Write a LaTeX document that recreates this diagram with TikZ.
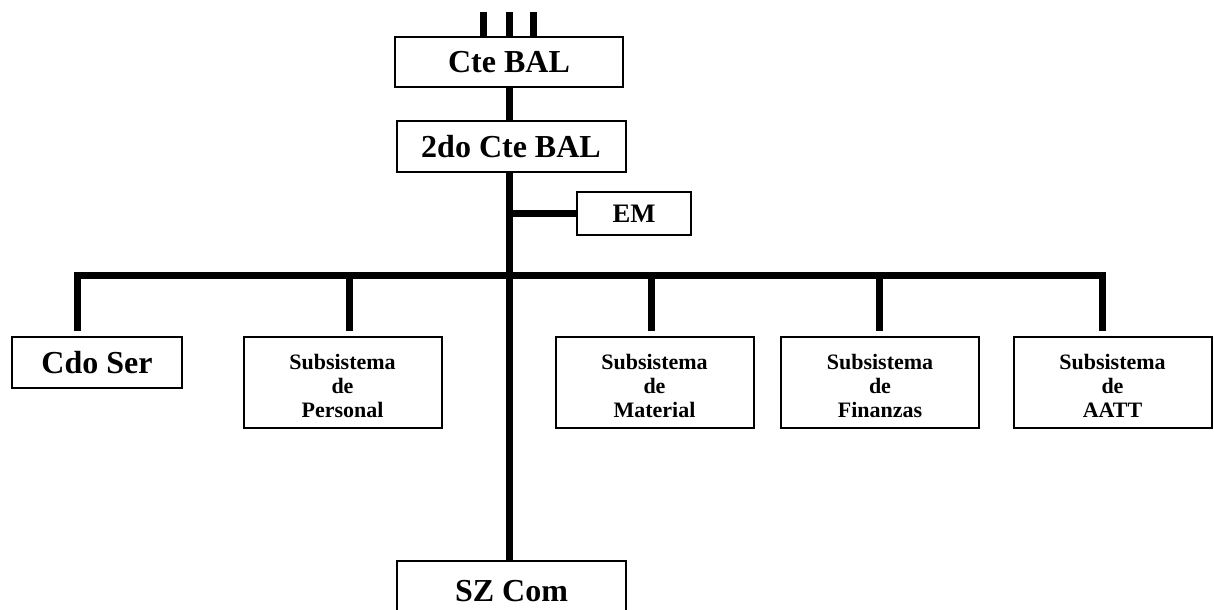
\documentclass[tikz,border=0pt]{standalone}
\usepackage{fontspec}
\setmainfont{Liberation Serif}

\tikzset{every picture/.style={line width=0.75pt}}
\tikzset{
  unitbox/.style={draw, line width=1.5pt, fill=white, inner sep=0pt, font=\bfseries\fontsize{24}{28}\selectfont},
  smallbox/.style={draw, line width=1.5pt, fill=white, inner sep=0pt, align=center, minimum width=148.5pt, minimum height=68.25pt, font=\bfseries\fontsize{16.5}{18}\selectfont},
  bus/.style={line width=5.25pt}
}
\newcommand{\lowtop}{\rule{0pt}{16pt}}

\begin{document}
\begin{tikzpicture}[x=0.75pt,y=0.75pt,yscale=-1,xscale=1]
\useasboundingbox (0,0) rectangle (1214,610);

%Shape: Rectangle [id:ctebal]
\node [unitbox, minimum width=171pt, minimum height=37.5pt] (ctebal) at (509,62) {Cte BAL};
%Shape: Rectangle [id:seg]
\node [unitbox, minimum width=171.75pt, minimum height=38.25pt] (seg) at (511,146.5) {2do Cte BAL};
%Shape: Rectangle [id:em]
\node [unitbox, minimum width=85.5pt, minimum height=32.25pt, font=\bfseries\fontsize{20}{24}\selectfont] (em) at (634,213.5) {EM};
%Shape: Rectangle [id:cdoser]
\node [unitbox, minimum width=127.5pt, minimum height=38.25pt] (cdoser) at (97,362.5) {Cdo Ser};
%Shape: Rectangle [id:szcom]
\node [unitbox, minimum width=171.75pt, minimum height=45pt] (szcom) at (511.5,591) {SZ Com};

%Shape: Rectangle [id:personal]
\node [smallbox] (personal) at (342.5,382.5) {\lowtop Subsistema\\de\\Personal};
%Shape: Rectangle [id:material]
\node [smallbox] (material) at (654.5,382.5) {\lowtop Subsistema\\de\\Material};
%Shape: Rectangle [id:finanzas]
\node [smallbox] (finanzas) at (880,382.5) {\lowtop Subsistema\\de\\Finanzas};
%Shape: Rectangle [id:aatt]
\node [smallbox] (aatt) at (1112.5,382.5) {\lowtop Subsistema\\de\\AATT};

%Straight Lines [id:top]
\foreach \dx/\name in {-26/ina,0/inb,24/inc}
  \draw [bus] (ctebal.north) ++(\dx,0) -- ++(0,-24) coordinate (\name);

%Straight Lines [id:trunk]
\draw [bus] (ctebal.south) -- (ctebal.south |- seg.north);
\draw [bus] (ctebal.south |- seg.south) -- (ctebal.south |- szcom.north);
\draw [bus] (ctebal.south |- em.west) -- (em.west);

%Straight Lines [id:bar]
\coordinate (hub) at (ctebal.south |- 0,275);
\draw [bus] (cdoser.north) ++(-20,-5) |- (hub);
\draw [bus] (personal.north) ++(6.5,-5) |- (hub);
\draw [bus] (material.north) ++(-3.5,-5) |- (hub);
\draw [bus] (finanzas.north) ++(-1,-5) |- (hub);
\draw [bus] (aatt.north) ++(-10.5,-5) |- (hub);

\end{tikzpicture}
\end{document}
